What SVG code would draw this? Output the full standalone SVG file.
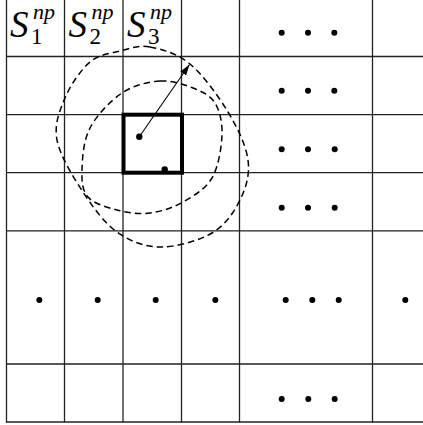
<svg xmlns="http://www.w3.org/2000/svg" width="423" height="425" viewBox="0 0 423 425">
  <style>
    .grid line { stroke: #222; stroke-width: 1.3; }
    .loop { fill: none; stroke: #000; stroke-width: 1.5; stroke-dasharray: 6.5 4; }
    .dot { fill: #000; }
    .s { font-family: "Liberation Serif", "Times New Roman", serif; font-style: italic; font-size: 37px; fill: #000; }
    .sub { font-family: "Liberation Serif", "Times New Roman", serif; font-size: 23px; fill: #000; }
    .sup { font-family: "Liberation Serif", "Times New Roman", serif; font-style: italic; font-size: 22px; fill: #000; }
  </style>
  <defs>
    <marker id="ah" markerUnits="userSpaceOnUse" markerWidth="11" markerHeight="7" viewBox="0 0 11 7" refX="11" refY="3.5" orient="auto">
      <path d="M0,0 L11,3.5 L0,7 z" fill="#000"/>
    </marker>
  </defs>
  <rect width="423" height="425" fill="#fff"/>

  <g id="grid" class="grid">
    <line x1="6.5" y1="0" x2="6.5" y2="422.5"/>
    <line x1="64.5" y1="0" x2="64.5" y2="422.5"/>
    <line x1="123" y1="0" x2="123" y2="422.5"/>
    <line x1="181.5" y1="0" x2="181.5" y2="422.5"/>
    <line x1="239.5" y1="0" x2="239.5" y2="422.5"/>
    <line x1="372.5" y1="0" x2="372.5" y2="422.5"/>
    <line x1="6" y1="56.5" x2="423" y2="56.5"/>
    <line x1="6" y1="114.7" x2="423" y2="114.7"/>
    <line x1="6" y1="172.7" x2="423" y2="172.7"/>
    <line x1="6" y1="230.8" x2="423" y2="230.8"/>
    <line x1="6" y1="364" x2="423" y2="364"/>
    <line x1="6" y1="422" x2="423" y2="422"/>
  </g>

  <g id="labels">
    <g id="s1">
      <text class="s" x="10" y="37">S</text>
      <text class="sub" x="31" y="43.5">1</text>
      <text class="sup" x="33" y="18.5">np</text>
    </g>
    <g id="s2">
      <text class="s" x="68.5" y="37">S</text>
      <text class="sub" x="89.5" y="43.5">2</text>
      <text class="sup" x="91.5" y="18.5">np</text>
    </g>
    <g id="s3">
      <text class="s" x="127" y="37">S</text>
      <text class="sub" x="148" y="43.5">3</text>
      <text class="sup" x="150" y="18.5">np</text>
    </g>
  </g>

  <g id="loops">
    <path id="loop-large" class="loop" d="M150,47 C161.67,49.17 177,53.17 190,64 C203,74.83 218.33,96 228,112 C237.67,128 246,145.33 248,160 C250,174.67 246,187.83 240,200 C234,212.17 225.33,225.17 212,233 C198.67,240.83 175.83,247.17 160,247 C144.17,246.83 129.83,241.17 117,232 C104.17,222.83 93,207.33 83,192 C73,176.67 60,155.67 57,140 C54,124.33 59.5,111 65,98 C70.5,85 80.83,69.83 90,62 C99.17,54.17 110,53.5 120,51 C130,48.5 138.33,44.83 150,47 Z"/>
    <path id="loop-small" class="loop" d="M160,81 C171.83,80.17 183.83,84.33 193,88 C202.17,91.67 210.17,95.17 215,103 C219.83,110.83 222.5,122.5 222,135 C221.5,147.5 218.5,166.83 212,178 C205.5,189.17 193.33,196.17 183,202 C172.67,207.83 161,211.67 150,213 C139,214.33 127.33,212.67 117,210 C106.67,207.33 93.83,203.67 88,197 C82.17,190.33 81.67,181.5 82,170 C82.33,158.5 83.33,140.83 90,128 C96.67,115.17 110.33,100.83 122,93 C133.67,85.17 148.17,81.83 160,81 Z"/>
  </g>

  <g id="focus-cell">
    <rect x="123.5" y="114.7" width="58.5" height="58" fill="none" stroke="#000" stroke-width="4"/>
    <circle class="dot" cx="139.3" cy="136.7" r="3.2"/>
    <circle class="dot" cx="164.7" cy="169.5" r="3.2"/>
  </g>

  <g id="connectors">
    <line x1="139.3" y1="136.7" x2="189.5" y2="64.5" stroke="#000" stroke-width="1.1" marker-end="url(#ah)"/>
  </g>

  <g id="dots">
    <circle class="dot" cx="281.7" cy="32.7" r="3"/>
    <circle class="dot" cx="308" cy="32.7" r="3"/>
    <circle class="dot" cx="334.3" cy="32.7" r="3"/>
    <circle class="dot" cx="281.7" cy="90.7" r="3"/>
    <circle class="dot" cx="308" cy="90.7" r="3"/>
    <circle class="dot" cx="334.3" cy="90.7" r="3"/>
    <circle class="dot" cx="281.7" cy="149.3" r="3"/>
    <circle class="dot" cx="308" cy="149.3" r="3"/>
    <circle class="dot" cx="334.7" cy="149.3" r="3"/>
    <circle class="dot" cx="281.7" cy="207.7" r="3"/>
    <circle class="dot" cx="308" cy="207.7" r="3"/>
    <circle class="dot" cx="334.7" cy="207.7" r="3"/>
    <circle class="dot" cx="39.3" cy="300" r="3"/>
    <circle class="dot" cx="97.7" cy="300" r="3"/>
    <circle class="dot" cx="155.7" cy="300" r="3"/>
    <circle class="dot" cx="215.3" cy="300" r="3"/>
    <circle class="dot" cx="285.7" cy="300" r="3"/>
    <circle class="dot" cx="312.3" cy="300" r="3"/>
    <circle class="dot" cx="338.7" cy="300" r="3"/>
    <circle class="dot" cx="405.3" cy="300" r="3"/>
    <circle class="dot" cx="281.7" cy="399" r="3"/>
    <circle class="dot" cx="308.3" cy="399" r="3"/>
    <circle class="dot" cx="334.7" cy="399" r="3"/>
  </g>
</svg>
